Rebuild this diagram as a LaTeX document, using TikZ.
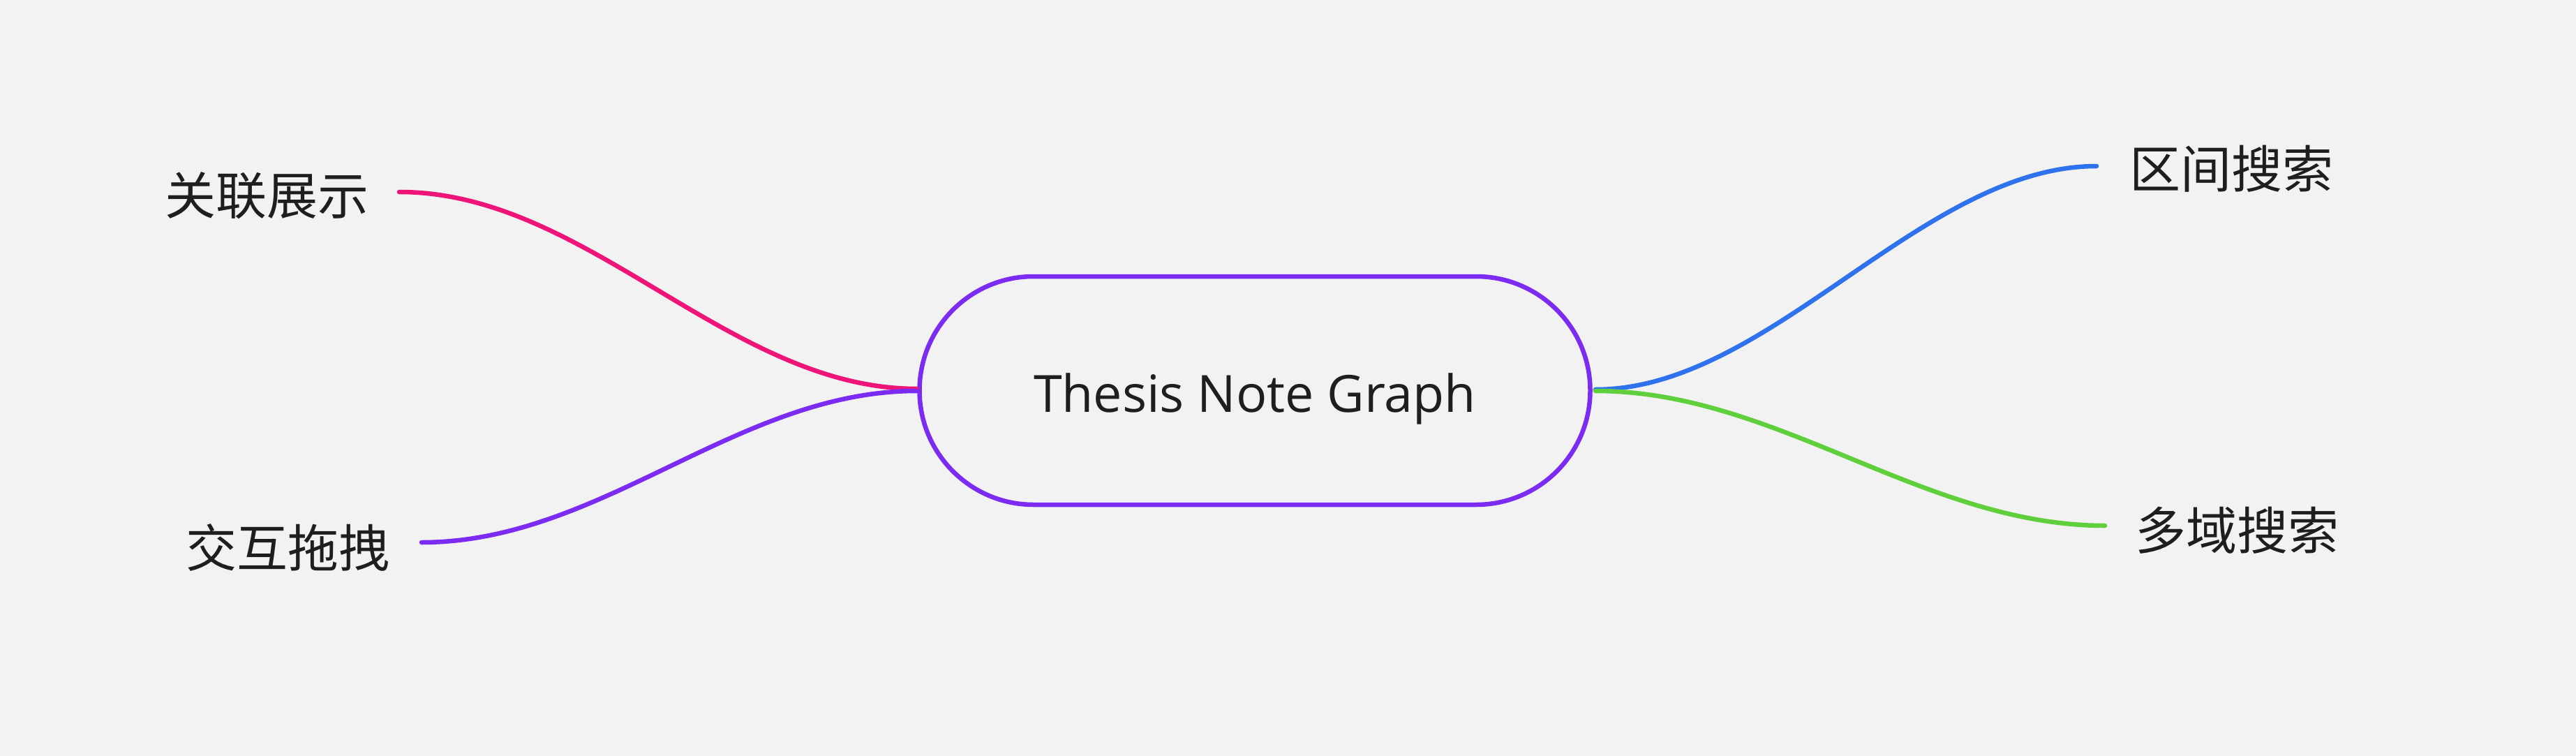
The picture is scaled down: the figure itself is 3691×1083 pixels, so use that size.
\documentclass[tikz,border=0pt]{standalone}
\usepackage{fontspec}
\setmainfont{Open Sans}
\newfontfamily\cjk{Noto Sans CJK SC}
\definecolor{bg}{HTML}{F2F2F2}
\definecolor{txt}{HTML}{1E1E1E}
\definecolor{cpink}{HTML}{EE1478}
\definecolor{cpurple}{HTML}{7B2BF2}
\definecolor{cblue}{HTML}{2F72EE}
\definecolor{cgreen}{HTML}{5FD03C}
\tikzset{
  conn/.style={line width=6.5pt, line cap=round},
  lbl/.style={anchor=base west, inner sep=0pt, text=txt, font=\cjk\fontsize{73}{80}\selectfont},
  rootbox/.style={draw=cpurple, line width=6.5pt, fill=bg, rounded corners=163.5pt}
}
\begin{document}
\begin{tikzpicture}[x=1pt, y=-1pt]
  \fill[bg] (0,0) rectangle (3691,1083);
  \useasboundingbox (0,0) rectangle (3691,1083);
  % central box
  \draw[rootbox] (1317.5,396) rectangle (2278.5,723);
  \node[anchor=base, inner sep=0pt, text=txt, font=\fontsize{73.5}{80}\selectfont] (root) at (1798,590) {Thesis Note Graph};
  \coordinate (rl1) at (1314,557);
  \coordinate (rl2) at (1314,560);
  \coordinate (rr1) at (2286,558);
  \coordinate (rr2) at (2286,560);
  % labels
  \node[lbl] (a) at (236,308) {关联展示};
  \node[lbl] (b) at (266,812) {交互拖拽};
  \node[lbl] (c) at (3051,270) {区间搜索};
  \node[lbl] (d) at (3059,787) {多域搜索};
  % connector ends
  \coordinate (ae) at (572,275);
  \coordinate (be) at (604,777);
  \coordinate (ce) at (3004,238);
  \coordinate (de) at (3016,753);
  % connectors
  \draw[conn, cpink] (ae) .. controls +(270,0) and +(-270,0) .. (rl1);
  \draw[conn, cpurple] (be) .. controls +(258,0) and +(-258,0) .. (rl2);
  \draw[conn, cblue] (rr1) .. controls +(250,0) and +(-250,0) .. (ce);
  \draw[conn, cgreen] (rr2) .. controls +(260,0) and +(-260,0) .. (de);
\end{tikzpicture}
\end{document}
